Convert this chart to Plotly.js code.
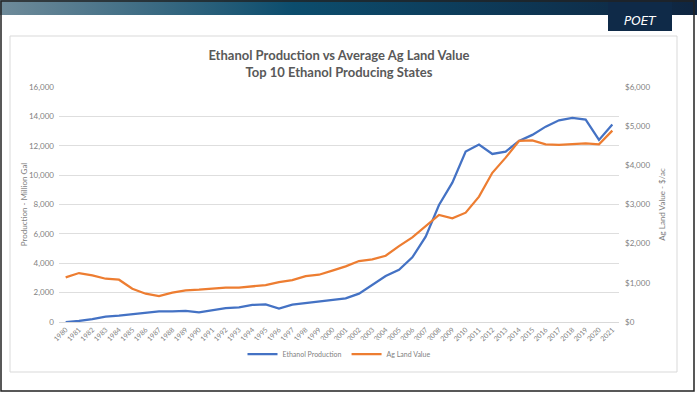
<!DOCTYPE html>
<html>
<head>
<meta charset="utf-8">
<script src="https://cdn.plot.ly/plotly-3.0.1.min.js"></script>
<style>
html,body{margin:0;padding:0;background:#fff;}
#chart{width:697px;height:395px;}
</style>
</head>
<body>
<div id="chart"></div>
<script>
const years = [1980,1981,1982,1983,1984,1985,1986,1987,1988,1989,1990,1991,1992,1993,1994,1995,1996,1997,1998,1999,2000,2001,2002,2003,2004,2005,2006,2007,2008,2009,2010,2011,2012,2013,2014,2015,2016,2017,2018,2019,2020,2021];
const ethanolProduction = [0,70,200,360,430,520,630,725,725,750,660,790,950,1000,1160,1200,910,1180,1290,1360,1500,1610,1930,2520,3130,3560,4400,5810,7970,9490,11600,12080,11440,11600,12330,12740,13300,13730,13890,13780,12400,13440];
const agLandValue = [1140,1250,1190,1105,1080,850,723,663,748,808,825,850,876,876,901,944,1020,1071,1173,1207,1310,1420,1556,1599,1692,1939,2160,2434,2732,2647,2791,3200,3810,4197,4622,4639,4537,4520,4537,4563,4537,4886];
const tickLabels = years.map(String);

const W = 697, H = 395;
const M = {l:59, r:78, t:87, b:73};
const PW = W - M.l - M.r, PH = H - M.t - M.b;
const px = x => (x - M.l) / PW;
const py = y => (H - M.b - y) / PH;

const gradSvg = '<svg xmlns="http://www.w3.org/2000/svg" width="697" height="15" preserveAspectRatio="none"><defs><linearGradient id="g" x1="0" x2="1" y1="0" y2="0"><stop offset="0" stop-color="#6f8b9a"/><stop offset="0.42" stop-color="#0c4d6d"/><stop offset="1" stop-color="#0f2540"/></linearGradient></defs><rect width="697" height="15" fill="url(#g)"/></svg>';
const gradSrc = 'data:image/svg+xml;base64,' + btoa(gradSvg);

const traces = [
  {x: years, y: ethanolProduction, name: 'Ethanol Production', type: 'scatter', mode: 'lines',
   line: {color: '#4472C4', width: 2.25}, yaxis: 'y'},
  {x: years, y: agLandValue, name: 'Ag Land Value', type: 'scatter', mode: 'lines',
   line: {color: '#ED7D31', width: 2.25}, yaxis: 'y2'}
];

const axisFont = {family: 'Lato, "Open Sans", sans-serif', size: 8, color: '#7f7f7f'};

const layout = {
  width: W, height: H,
  margin: M,
  paper_bgcolor: '#ffffff',
  plot_bgcolor: '#ffffff',
  showlegend: true,
  legend: {orientation: 'h', x: 0.5, xanchor: 'center', y: py(354), yanchor: 'middle',
           font: {family: 'Lato, sans-serif', size: 7, color: '#7f7f7f'}, itemwidth: 30, tracegroupgap: 0},
  title: {text: 'Ethanol Production vs Average Ag Land Value<br>Top 10 Ethanol Producing States',
          x: 0.5, xref: 'paper', xanchor: 'center', y: 1 - 60/H, yanchor: 'middle',
          font: {family: 'Lato, sans-serif', size: 13, color: '#595959', weight: 700}},
  xaxis: {
    type: 'linear', range: [1979.5, 2021.5], tickvals: years, ticktext: tickLabels,
    tickangle: -45, tickfont: {family: 'Lato, sans-serif', size: 7, color: '#7f7f7f'},
    showgrid: false, zeroline: false, showline: true, linecolor: '#d9d9d9', linewidth: 1,
    ticks: '', fixedrange: true
  },
  yaxis: {
    range: [0, 16000], tickvals: [0,2000,4000,6000,8000,10000,12000,14000,16000], tickformat: ',d',
    showgrid: true, gridcolor: '#dedede', gridwidth: 1, zeroline: false, showline: false,
    tickfont: axisFont, ticks: '', ticklabelstandoff: 4,
    title: {text: 'Production - Million Gal', font: axisFont, standoff: 0}
  },
  yaxis2: {
    range: [0, 6000], tickvals: [0,1000,2000,3000,4000,5000,6000], tickformat: '$,d',
    overlaying: 'y', side: 'right', showgrid: false, zeroline: false, showline: false,
    tickfont: axisFont, ticks: '', ticklabelstandoff: 5,
    title: {text: 'Ag Land Value - $/ac', font: axisFont, standoff: 10}
  },
  images: [{source: gradSrc, xref: 'paper', yref: 'paper', x: px(0), y: py(0),
            sizex: px(697) - px(0), sizey: py(0) - py(15), sizing: 'stretch', xanchor: 'left', yanchor: 'top', layer: 'below'}],
  shapes: [
    {type: 'rect', xref: 'paper', yref: 'paper', x0: px(10), x1: px(677), y0: py(36), y1: py(372),
     line: {color: '#d9d9d9', width: 1}, fillcolor: 'rgba(0,0,0,0)', layer: 'below'},
    {type: 'rect', xref: 'paper', yref: 'paper', x0: px(608), x1: px(672), y0: py(0), y1: py(31),
     line: {width: 0}, fillcolor: '#0f2a48', layer: 'above'},
    {type: 'rect', xref: 'paper', yref: 'paper', x0: px(1), x1: px(694), y0: py(1), y1: py(391),
     line: {color: '#222222', width: 1.5}, fillcolor: 'rgba(0,0,0,0)', layer: 'above'}
  ],
  annotations: [
    {text: '<i>POET</i>', xref: 'paper', yref: 'paper', x: px(640), y: py(21), xanchor: 'center', yanchor: 'middle',
     showarrow: false, font: {family: '"DejaVu Sans", sans-serif', size: 12, color: '#ffffff'}}
  ]
};

Plotly.newPlot('chart', traces, layout, {displayModeBar: false, staticPlot: true});
</script>
</body>
</html>
